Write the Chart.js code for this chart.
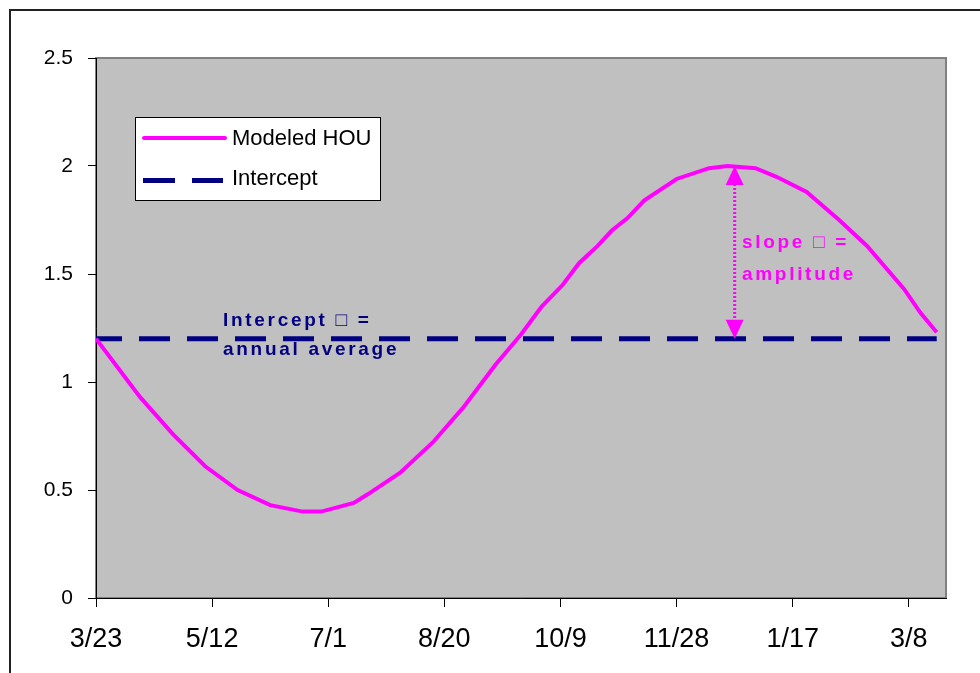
<!DOCTYPE html>
<html lang="en">
  <head>
    <meta charset="UTF-8" />
    <title>Modeled HOU</title>
    <style>
      body { margin: 0; background: #fff; }
      #wrap { width: 980px; height: 673px; }
    </style>
  </head>
  <body>
    <div id="wrap"><canvas id="hou" width="980" height="673"></canvas></div>

    <script src="https://cdn.jsdelivr.net/npm/chart.js"></script>
    <script>
      // x values are days after 3/23
      const tickDays = [0, 50, 100, 150, 200, 250, 300, 350];
      const tickLabels = ["3/23", "5/12", "7/1", "8/20", "10/9", "11/28", "1/17", "3/8"];
      const yTicks = [0, 0.5, 1, 1.5, 2, 2.5];

      const houDays = [0, 19, 33, 47, 61, 75, 89, 97, 111, 117, 131, 145, 158, 172, 183,
        192, 201, 208, 216, 222, 229, 236, 250, 264, 272, 284, 293, 306, 320, 332, 348, 355, 362];
      const houValues = [1.2, 0.93, 0.76, 0.61, 0.5, 0.43, 0.4, 0.4, 0.44, 0.48, 0.58, 0.72, 0.88, 1.08, 1.22,
        1.35, 1.45, 1.55, 1.63, 1.7, 1.76, 1.84, 1.94, 1.99, 2.0, 1.99, 1.95, 1.88, 1.75, 1.63, 1.43, 1.32, 1.23];

      const interceptDays = [0, 362];
      const interceptValues = [1.2, 1.2];

      const arrowDay = 275;
      const arrowRange = [1.2, 2.0];

      const pink = "#ff00ff";
      const navy = "#000080";

      const notes = {
        id: "notes",
        beforeDraw(chart) {
          const ctx = chart.ctx;
          const a = chart.chartArea;
          ctx.save();
          ctx.fillStyle = "#fff";
          ctx.fillRect(0, 0, chart.width, chart.height);
          ctx.strokeStyle = "#222";
          ctx.lineWidth = 2;
          ctx.beginPath();
          ctx.moveTo(10, chart.height);
          ctx.lineTo(10, 10);
          ctx.lineTo(chart.width, 10);
          ctx.stroke();
          ctx.fillStyle = "#c0c0c0";
          ctx.fillRect(a.left, a.top, a.right - a.left, a.bottom - a.top);
          ctx.strokeStyle = "#808080";
          ctx.strokeRect(a.left, a.top, a.right - a.left, a.bottom - a.top);
          ctx.restore();
        },
        afterDraw(chart) {
          const ctx = chart.ctx;
          const xs = chart.scales.x;
          const ys = chart.scales.y;
          ctx.save();

          // amplitude arrow
          const ax = xs.getPixelForValue(arrowDay);
          const yTop = ys.getPixelForValue(arrowRange[1]);
          const yBot = ys.getPixelForValue(arrowRange[0]);
          ctx.strokeStyle = pink;
          ctx.fillStyle = pink;
          ctx.lineWidth = 3;
          ctx.setLineDash([2, 2]);
          ctx.beginPath();
          ctx.moveTo(ax, yTop + 18);
          ctx.lineTo(ax, yBot - 18);
          ctx.stroke();
          ctx.setLineDash([]);
          ctx.beginPath();
          ctx.moveTo(ax, yTop);
          ctx.lineTo(ax - 9, yTop + 19);
          ctx.lineTo(ax + 9, yTop + 19);
          ctx.closePath();
          ctx.fill();
          ctx.beginPath();
          ctx.moveTo(ax, yBot);
          ctx.lineTo(ax - 9, yBot - 19);
          ctx.lineTo(ax + 9, yBot - 19);
          ctx.closePath();
          ctx.fill();

          // notes
          ctx.font = "bold 19px Arial, 'Liberation Sans', sans-serif";
          ctx.letterSpacing = "2.7px";
          ctx.textBaseline = "alphabetic";
          ctx.textAlign = "left";
          ctx.fillStyle = navy;
          ctx.fillText("Intercept \u25A1 =", 223, 326);
          ctx.fillText("annual average", 223, 355);
          ctx.fillStyle = pink;
          ctx.fillText("slope \u25A1 =", 742, 248);
          ctx.fillText("amplitude", 742, 280);
          ctx.letterSpacing = "0px";

          // legend
          ctx.fillStyle = "#fff";
          ctx.fillRect(135.5, 117.5, 245, 83);
          ctx.strokeStyle = "#000";
          ctx.lineWidth = 1;
          ctx.strokeRect(135.5, 117.5, 245, 83);
          ctx.strokeStyle = pink;
          ctx.lineWidth = 4;
          ctx.lineCap = "round";
          ctx.beginPath();
          ctx.moveTo(144, 138);
          ctx.lineTo(225, 138);
          ctx.stroke();
          ctx.fillStyle = navy;
          ctx.fillRect(143, 178, 32, 5);
          ctx.fillRect(192, 178, 31, 5);
          ctx.fillStyle = "#000";
          ctx.font = "22px Arial, 'Liberation Sans', sans-serif";
          ctx.fillText("Modeled HOU", 232, 145);
          ctx.fillText("Intercept", 232, 185);
          ctx.restore();
        },
      };

      new Chart(document.getElementById("hou").getContext("2d"), {
        type: "line",
        data: {
          datasets: [
            {
              label: "Modeled HOU",
              data: houDays.map((d, i) => ({ x: d, y: houValues[i] })),
              borderColor: pink,
              borderWidth: 4,
              pointRadius: 0,
              tension: 0,
            },
            {
              label: "Intercept",
              data: interceptDays.map((d, i) => ({ x: d, y: interceptValues[i] })),
              borderColor: navy,
              borderWidth: 5,
              borderDash: [31, 17],
              borderDashOffset: 5,
              pointRadius: 0,
            },
          ],
        },
        options: {
          responsive: false,
          animation: false,
          layout: { padding: { top: 58, right: 34, left: 0, bottom: 0 } },
          plugins: { legend: { display: false }, tooltip: { enabled: false } },
          scales: {
            x: {
              type: "linear",
              min: 0,
              max: 366,
              afterFit: (s) => { s.height = 75; },
              afterBuildTicks: (s) => { s.ticks = tickDays.map((v) => ({ value: v })); },
              grid: { drawOnChartArea: false, drawTicks: true, tickLength: 9, color: "#000" },
              border: { display: true, color: "#000", width: 1 },
              ticks: {
                autoSkip: false,
                maxRotation: 0,
                padding: 16,
                color: "#000",
                font: { family: "Arial, 'Liberation Sans', sans-serif", size: 27 },
                callback: (v, i) => tickLabels[i],
              },
            },
            y: {
              min: 0,
              max: 2.5,
              afterFit: (s) => { s.width = 96; },
              afterBuildTicks: (s) => { s.ticks = yTicks.map((v) => ({ value: v })); },
              grid: { drawOnChartArea: false, drawTicks: true, tickLength: 8, color: "#000" },
              border: { display: true, color: "#000", width: 1 },
              ticks: {
                padding: 15,
                color: "#000",
                font: { family: "Arial, 'Liberation Sans', sans-serif", size: 21 },
                callback: (v) => String(v),
              },
            },
          },
        },
        plugins: [notes],
      });
    </script>
  </body>
</html>
